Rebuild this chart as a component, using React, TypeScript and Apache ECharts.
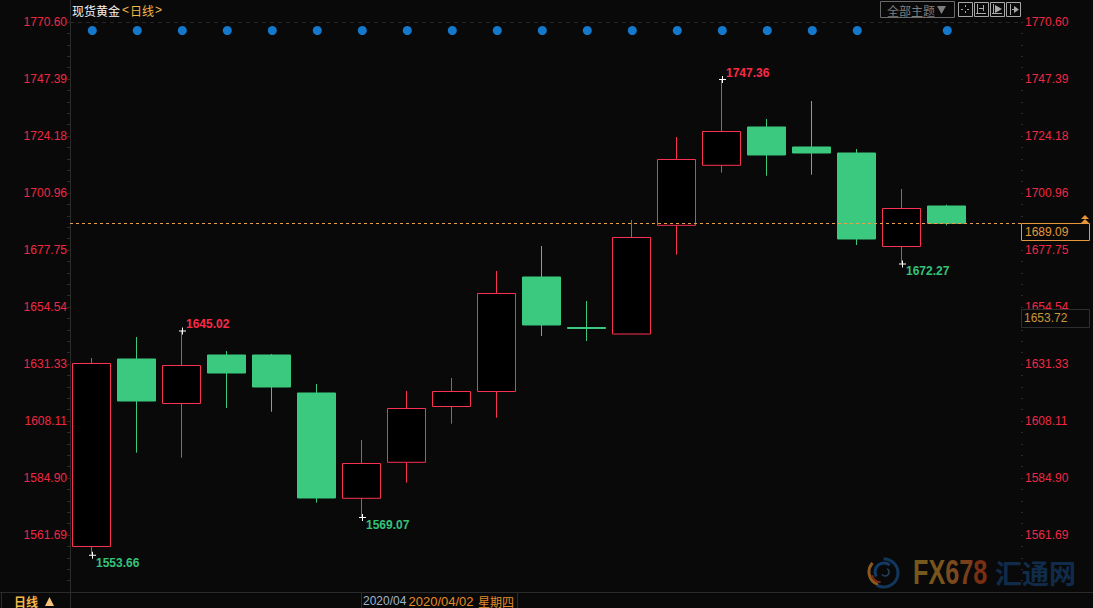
import React, { useEffect, useRef } from "react";
import * as echarts from "echarts";

const categories = ["D01","D02","D03","D04","D05","D06","D07","D08","D09","D10","D11","D12","D13","D14","D15","D16","D17","D18","D19","2020/04/02","" ];
const opens = [1557.01,1633.36,1615.24,1634.99,1634.99,1619.52,1576.64,1591.3,1614.02,1620.13,1666.76,1646.19,1643.54,1687.81,1712.24,1727.84,1719.7,1717.25,1679.18,1695.67];
const closes = [1631.53,1616.26,1630.72,1627.66,1621.96,1576.76,1590.81,1613.21,1620.13,1660.04,1647.21,1645.78,1682.84,1714.61,1726.01,1716.44,1717.25,1682.23,1694.65,1688.6];
const lows = [1553.66,1595.21,1593.17,1613.41,1611.9,1574.84,1569.07,1582.99,1607.02,1609.46,1642.73,1640.69,1643.54,1675.84,1709.23,1708.01,1708.42,1679.79,1672.27,1687.8];
const highs = [1633.77,1642.32,1645.02,1636.62,1635.4,1623.18,1600.38,1620.33,1625.63,1669.2,1679.38,1656.98,1689.97,1723.77,1747.36,1731.1,1738.43,1718.88,1702.59,1696.2];
const dotCandles = [0,1,2,3,4,5,6,7,8,9,10,11,12,13,14,15,16,17,19];
const dotLevel = 1767.14;
const yTicks = [1770.6,1747.39,1724.18,1700.96,1677.75,1654.54,1631.33,1608.11,1584.9,1561.69];
const minorStep = 4.6424;
const axisTop = 1770.6;
const axisBottom = 1538.48;
const lastLine = 1688.7;
const extremes = [
  { i: 0, v: 1553.66, kind: "low" },
  { i: 2, v: 1645.02, kind: "high" },
  { i: 6, v: 1569.07, kind: "low" },
  { i: 14, v: 1747.36, kind: "high" },
  { i: 18, v: 1672.27, kind: "low" },
];

const RED = "#fb3252";
const LABEL_RED = "#f02845";
const BOLD_RED = "#fa2a48";
const GREEN = "#3ac97f";
const LABEL_GREEN = "#34c27a";
const BG = "#090909";
const GRID = "#2b2b2b";
const FONT = "Liberation Sans, Arial, sans-serif";
const CJK = "'Noto Sans CJK SC', sans-serif";

const minorTicks: number[] = [];
for (let k = 0; k <= 50; k++) minorTicks.push(Number((axisTop - k * minorStep).toFixed(3)));

const seg = (x1: number, y1: number, x2: number, y2: number, stroke: string, lineWidth = 1) => ({
  type: "line", silent: true, z: 30,
  shape: { x1, y1, x2, y2 }, style: { stroke, lineWidth },
});
const box = (x: number, y: number, width: number, height: number, stroke: string, fill = "transparent") => ({
  type: "rect", silent: true, z: 30,
  shape: { x: x + 0.5, y: y + 0.5, width, height }, style: { stroke, fill, lineWidth: 1 },
});
const label = (x: number, y: number, text: string, fill: string, extra: any = {}) => ({
  type: "text", silent: true, z: 31, x, y,
  style: { text, fill, font: `12px ${FONT}`, textVerticalAlign: "middle", ...extra },
});
const tri = (points: number[][], fill: string) => ({
  type: "polygon", silent: true, z: 31, shape: { points }, style: { fill },
});

const ICON = "#a8a8a8";
const iconGraphics = [
  box(958, 2, 14, 14, ICON),
  seg(961, 9.5, 963, 9.5, ICON), seg(967, 9.5, 969, 9.5, ICON), seg(965.5, 5, 965.5, 7, ICON), seg(965.5, 11, 965.5, 13, ICON),
  box(974, 2, 14, 14, ICON),
  seg(977.5, 4, 977.5, 14, ICON), seg(976, 13.5, 986, 13.5, ICON), seg(983.5, 5, 983.5, 11, ICON), seg(979, 8.5, 983, 8.5, ICON),
  box(990, 2, 14, 14, ICON),
  seg(993.5, 4, 993.5, 14, ICON), seg(992, 13.5, 1002, 13.5, ICON),
  tri([[995, 5], [1002, 9], [995, 13]], ICON),
  box(1006, 2, 14, 14, ICON),
  seg(1010.5, 4, 1010.5, 15, ICON), seg(1012, 9.5, 1018, 9.5, ICON),
  tri([[1014, 6], [1019, 9.5], [1014, 13]], ICON),
];

const graphics: any[] = [
  seg(70.5, 0, 70.5, 23, GRID),
  label(72, 10, "现货黄金", "#f4f4f4", { font: `12px ${CJK}` }),
  label(122, 10, "<", "#f2b84a", { font: `12px ${FONT}` }),
  label(130, 10, "日线", "#f2b84a", { font: `12px ${CJK}` }),
  label(155, 10, ">", "#f2b84a", { font: `12px ${FONT}` }),
  box(880, 1, 74, 16, "#6a6a6a"),
  label(887, 10, "全部主题", "#7d7d7d", { font: `12px ${CJK}` }),
  tri([[937, 6], [946, 6], [941.5, 14]], "#7d7d7d"),
  ...iconGraphics,

  box(1021, 223, 68, 17, "#e8963a", BG),
  label(1025, 232, "1689.09", "#e39a3c"),
  tri([[1081, 219], [1085, 215], [1089, 219]], "#e8963a"),
  tri([[1081, 223], [1085, 219], [1089, 223]], "#e8963a"),
  box(1021, 309, 68, 18, "#2e2e2e", BG),
  label(1024, 318, "1653.72", "#c9963a"),

  seg(0, 592.5, 1093, 592.5, GRID),
  seg(1.5, 592, 1.5, 608, GRID),
  seg(70.5, 592, 70.5, 608, GRID),
  seg(361.5, 592, 361.5, 608, GRID),
  seg(517.5, 592, 517.5, 608, GRID),
  label(14, 601, "日线", "#f2b84a", { font: `bold 12px ${CJK}` }),
  tri([[45, 606], [49.5, 597], [54, 606]], "#f3c27a"),
  label(363, 601, "2020/04", "#9fb2cc", { font: `12px ${FONT}` }),
  label(408.5, 601, "2020/04/02", "#e58a24", { font: `13px ${FONT}` }),
  label(478, 601, "星期四", "#e58a24", { font: `12px ${CJK}` }),

  { type: "arc", silent: true, z: 5, shape: { cx: 884, cy: 573, r: 14, startAngle: -1.6, endAngle: 2.1 }, style: { stroke: "#12375c", fill: "none", lineWidth: 3 } },
  { type: "arc", silent: true, z: 5, shape: { cx: 882, cy: 572, r: 13, startAngle: 1.9, endAngle: 3.9 }, style: { stroke: "#8a5a1c", fill: "none", lineWidth: 3 } },
  { type: "arc", silent: true, z: 5, shape: { cx: 884, cy: 572, r: 9, startAngle: 2.6, endAngle: 5.4 }, style: { stroke: "#123a66", fill: "none", lineWidth: 3 } },
  { type: "arc", silent: true, z: 5, shape: { cx: 880, cy: 574, r: 8, startAngle: 1.5, endAngle: 3 }, style: { stroke: "#7c2a14", fill: "none", lineWidth: 2 } },
  { type: "arc", silent: true, z: 5, shape: { cx: 885, cy: 572, r: 4, startAngle: -1, endAngle: 2.5 }, style: { stroke: "#27415e", fill: "none", lineWidth: 1.5 } },
  {
    type: "text", silent: true, z: 5, x: 913, y: 572, scaleX: 0.7,
    style: {
      text: "{a|F}{b|X}{c|6}{d|7}{e|8}", textVerticalAlign: "middle", font: `bold 36px ${FONT}`,
      rich: {
        a: { fill: "#75581c", font: `bold 36px ${FONT}` }, b: { fill: "#79551e", font: `bold 36px ${FONT}` },
        c: { fill: "#7a4a1e", font: `bold 36px ${FONT}` }, d: { fill: "#7a3f1a", font: `bold 36px ${FONT}` },
        e: { fill: "#7a2e12", font: `bold 36px ${FONT}` },
      },
    },
  },
  { type: "text", silent: true, z: 5, x: 995, y: 572, style: { text: "汇通网", fill: "#102c4a", font: `bold 27px ${CJK}`, textVerticalAlign: "middle" } },
];

export default function App() {
  const ref = useRef<HTMLDivElement>(null);
  useEffect(() => {
    document.body.style.margin = "0";
    document.body.style.background = BG;
    const chart = echarts.init(ref.current!, null, { renderer: "svg" });
    const dashed = (value: number, color: string, type: any, z = 10) => ({
      silent: true, symbol: "none", animation: false,
      label: { show: false }, emphasis: { disabled: true }, z,
      lineStyle: { color, width: 1, type },
      data: [[{ x: 70, yAxis: value }, { x: 1021, yAxis: value }]],
    });
    chart.setOption({
      animation: false,
      backgroundColor: BG,
      grid: { left: 69, top: 22, width: 945, height: 570, containLabel: false },
      xAxis: {
        type: "category", data: categories, boundaryGap: true,
        axisLine: { show: false }, axisTick: { show: false }, axisLabel: { show: false }, splitLine: { show: false },
      },
      yAxis: [
        {
          type: "value", position: "left", min: axisBottom, max: axisTop, offset: -1, scale: true,
          axisLine: { show: true, lineStyle: { color: GRID } },
          axisTick: { show: true, length: 3, customValues: minorTicks, lineStyle: { color: GRID } },
          axisLabel: {
            color: LABEL_RED, fontFamily: FONT, fontSize: 12, margin: 3,
            customValues: yTicks, formatter: (v: number) => v.toFixed(2), showMinLabel: true, showMaxLabel: true,
          },
          splitLine: { show: false },
        },
        {
          type: "value", position: "right", min: axisBottom, max: axisTop, offset: 7, scale: true,
          axisLine: { show: false },
          axisTick: { show: true, length: 2, customValues: minorTicks, lineStyle: { color: GRID } },
          axisLabel: {
            color: LABEL_RED, fontFamily: FONT, fontSize: 12, margin: 4,
            customValues: yTicks, formatter: (v: number) => v.toFixed(2), showMinLabel: true, showMaxLabel: true,
          },
          splitLine: { show: false },
        },
      ],
      series: [
        {
          type: "candlestick", name: "现货黄金", barWidth: 39, clip: false, z: 3,
          data: opens.map((o, i) => [o, closes[i], lows[i], highs[i]]),
          itemStyle: { color: "#000000", color0: GREEN, borderColor: RED, borderColor0: GREEN, borderWidth: 1 },
          markLine: dashed(axisTop, "#262626", [4, 4]),
        },
        {
          type: "line", name: "last", data: [], silent: true, clip: false, z: 8,
          markLine: dashed(lastLine, "#e8a04a", [3, 3]),
        },
        {
          type: "scatter", name: "dots", symbol: "circle", symbolSize: 9, symbolOffset: [0.8, 0], z: 4, silent: true,
          itemStyle: { color: "#1479cc", opacity: 1 },
          data: dotCandles.map((i) => [i, dotLevel]),
        },
        {
          type: "scatter", name: "extremes", symbol: "path://M0 3H7V4H0Z M3 0H4V7H3Z", symbolSize: [7, 7], symbolOffset: [1, 0.5], z: 6, silent: true,
          itemStyle: { color: "#ffffff", opacity: 1 },
          data: extremes.map((e) => ({
            value: [e.i, e.v],
            label: {
              show: true, position: "right", distance: 0,
              offset: [0, e.kind === "high" ? -7 : 7.5],
              formatter: e.v.toFixed(2),
              color: e.kind === "high" ? BOLD_RED : LABEL_GREEN,
              fontFamily: FONT, fontSize: 12, fontWeight: "bold",
            },
          })),
        },
      ],
      graphic: graphics,
    });
    return () => chart.dispose();
  }, []);
  return <div ref={ref} style={{ width: 1093, height: 608 }} />;
}
